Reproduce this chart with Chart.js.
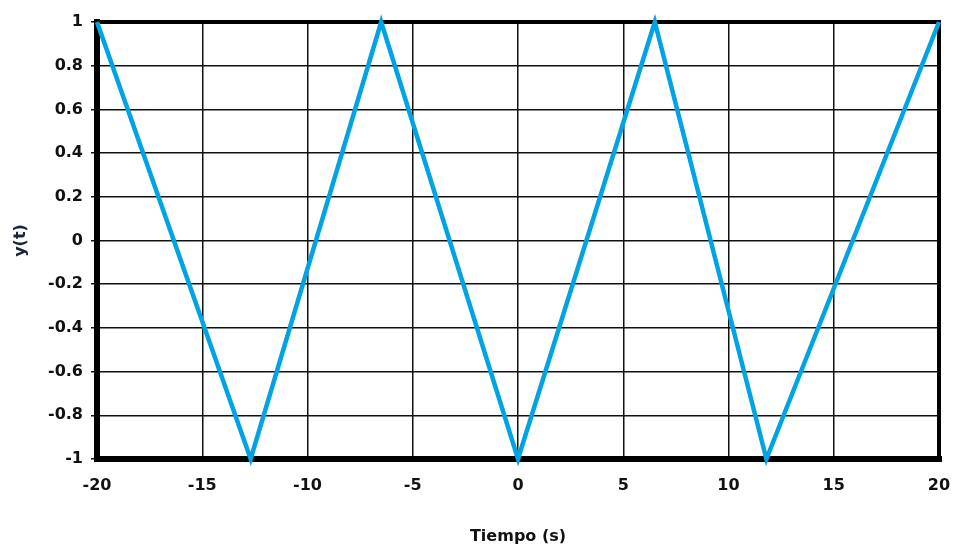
<!DOCTYPE html>
<html>
<head>
<meta charset="utf-8">
<title>y(t) onda triangular</title>
<script src="https://cdn.jsdelivr.net/npm/chart.js@4.4.0/dist/chart.umd.min.js"></script>
<style>
  html, body { margin: 0; padding: 0; background: #fff; }
  canvas { display: block; }
</style>
</head>
<body>
<canvas id="grafica" width="957" height="546"></canvas>
<script>
// ---- datos ----
const tiempo = [-20, -12.7, -6.5, 0, 6.5, 11.8, 20];
const yValores = [1, -1, 1, -1, 1, -1, 1];
const xTicks = [-20, -15, -10, -5, 0, 5, 10, 15, 20];
const yTicks = [-1, -0.8, -0.6, -0.4, -0.2, 0, 0.2, 0.4, 0.6, 0.8, 1];

const fuente = { family: "'DejaVu Sans', 'Liberation Sans', Arial, sans-serif", weight: "bold", size: 16 };

// marco negro grueso alrededor del area de trazado
const marco = {
  id: "marco",
  beforeDatasetsDraw(chart) {
    const { ctx, chartArea: a } = chart;
    ctx.save();
    ctx.strokeStyle = "#000";
    ctx.lineCap = "square";
    ctx.lineWidth = 6;
    ctx.beginPath(); ctx.moveTo(a.left, a.top); ctx.lineTo(a.left, a.bottom); ctx.stroke();
    ctx.beginPath(); ctx.moveTo(a.left, a.bottom); ctx.lineTo(a.right, a.bottom); ctx.stroke();
    ctx.lineWidth = 4;
    ctx.beginPath(); ctx.moveTo(a.left, a.top); ctx.lineTo(a.right, a.top); ctx.stroke();
    ctx.beginPath(); ctx.moveTo(a.right, a.top); ctx.lineTo(a.right, a.bottom); ctx.stroke();
    ctx.restore();
  }
};

new Chart(document.getElementById("grafica"), {
  type: "scatter",
  data: {
    datasets: [{
      label: "y(t)",
      data: tiempo.map((t, i) => ({ x: t, y: yValores[i] })),
      showLine: true,
      borderColor: "#00a3e4",
      borderWidth: 4.5,
      pointRadius: 0,
      tension: 0,
      clip: false
    }]
  },
  options: {
    responsive: false,
    animation: false,
    layout: { padding: { top: 22, right: 18, left: 0, bottom: 0 } },
    plugins: { legend: { display: false }, tooltip: { enabled: false } },
    scales: {
      x: {
        type: "linear",
        min: -20, max: 20,
        afterBuildTicks: s => { s.ticks = xTicks.map(v => ({ value: v })); },
        afterFit: s => { s.height = 87; s.paddingLeft = 0; s.paddingRight = 0; },
        grid: { color: "#111", lineWidth: 1.5, drawTicks: false },
        border: { display: false },
        ticks: { color: "#111", font: fuente, padding: 17, maxRotation: 0, callback: v => String(v) },
        title: { display: true, text: "Tiempo (s)", color: "#111", font: fuente, padding: { top: 0, bottom: 0 } }
      },
      y: {
        type: "linear",
        min: -1, max: 1,
        afterBuildTicks: s => { s.ticks = yTicks.map(v => ({ value: v })); },
        afterFit: s => { s.width = 97; s.paddingTop = 0; s.paddingBottom = 0; },
        grid: { color: "#111", lineWidth: 1.5, drawTicks: true, tickLength: 6, tickColor: "#111" },
        border: { display: false },
        ticks: { color: "#111", font: fuente, padding: 8, callback: v => String(v) },
        title: { display: true, text: "y(t)", color: "#1c2540", font: fuente, padding: { top: 11, bottom: 0 } }
      }
    }
  },
  plugins: [marco]
});
</script>
</body>
</html>
